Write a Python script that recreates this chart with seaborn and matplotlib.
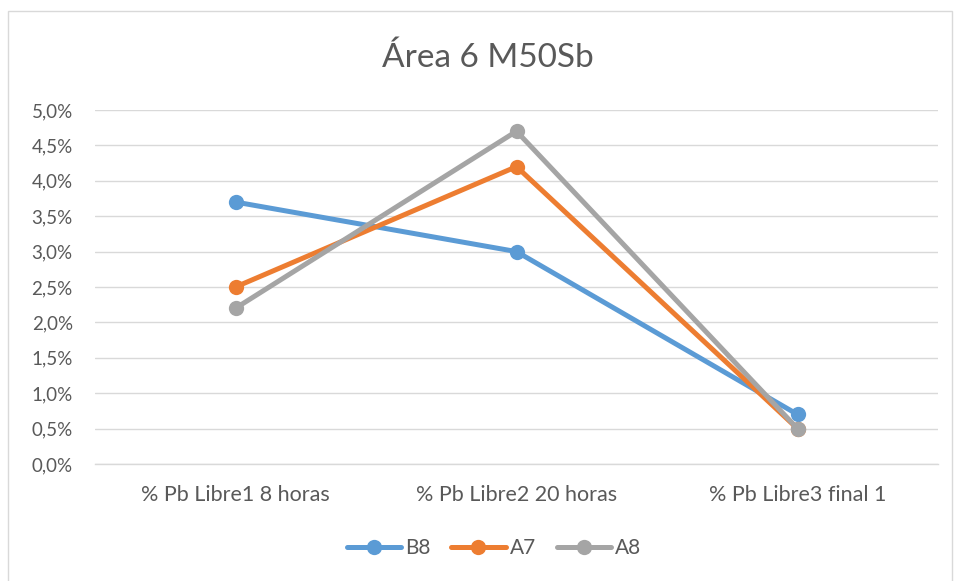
import matplotlib

matplotlib.use("Agg")
import matplotlib.pyplot as plt
import pandas as pd
import seaborn as sns
from matplotlib.patches import Rectangle
from matplotlib.ticker import FuncFormatter

CATEGORIES = ["% Pb Libre1 8 horas", "% Pb Libre2 20 horas", "% Pb Libre3 final 1"]
SERIES = ["B8", "A7", "A8"]
B8 = [3.7, 3.0, 0.7]
A7 = [2.5, 4.2, 0.5]
A8 = [2.2, 4.7, 0.5]
Y_TICKS = [0.0, 0.5, 1.0, 1.5, 2.0, 2.5, 3.0, 3.5, 4.0, 4.5, 5.0]
TITLE = "Área 6 M50Sb"

PALETTE = {"B8": "#5B9BD5", "A7": "#ED7D31", "A8": "#A5A5A5"}
TEXT = "#595959"


def main() -> None:
    sns.set_theme(style="white")
    plt.rcParams["font.family"] = ["Lato", "DejaVu Sans"]

    rows = []
    for name, vals in zip(SERIES, [B8, A7, A8]):
        for cat, v in zip(CATEGORIES, vals):
            rows.append({"cat": cat, "value": v, "series": name})
    df = pd.DataFrame(rows)

    fig = plt.figure(figsize=(9.55, 5.81), dpi=100)
    fig.patches.append(
        Rectangle((8 / 955, -0.01), 944 / 955, 1 - 11 / 581 + 0.01, transform=fig.transFigure,
                  fill=False, edgecolor="#D9D9D9", linewidth=1.0)
    )
    ax = fig.add_axes([95 / 955, 1 - 464 / 581, 843 / 955, 354 / 581])

    sns.lineplot(
        data=df, x="cat", y="value", hue="series", hue_order=SERIES, palette=PALETTE,
        marker="o", markersize=11, markeredgewidth=0, linewidth=3.6, sort=False, ax=ax,
    )

    ax.set_xlim(-0.5, 2.5)
    ax.set_ylim(0, 5.0)
    ax.set_yticks(Y_TICKS)
    ax.yaxis.set_major_formatter(FuncFormatter(lambda v, _: f"{v:.1f}%".replace(".", ",")))
    ax.grid(True, axis="y", color="#D9D9D9", linewidth=1.0)
    ax.grid(False, axis="x")
    ax.set_axisbelow(True)
    for side in ["top", "right", "left"]:
        ax.spines[side].set_visible(False)
    ax.spines["bottom"].set_color("#D9D9D9")
    ax.spines["bottom"].set_linewidth(1.0)
    ax.tick_params(axis="both", length=0, colors=TEXT)
    ax.tick_params(axis="y", pad=16, labelsize=13.5)
    ax.tick_params(axis="x", pad=15, labelsize=15.5)
    ax.set_xlabel("")
    ax.set_ylabel("")

    fig.text(488 / 955, 1 - 58 / 581, TITLE, ha="center", va="center", fontsize=24, color=TEXT)

    handles, labels = ax.get_legend_handles_labels()
    ax.legend(
        handles, labels, loc="center", bbox_to_anchor=(494 / 955, 1 - 548 / 581), bbox_transform=fig.transFigure,
        ncol=3, frameon=False, fontsize=15, handlelength=2.6, columnspacing=1.0, handletextpad=0.2,
        labelcolor=TEXT,
    )

    fig.savefig("out.png", dpi=100, facecolor="white")
    plt.close(fig)


if __name__ == "__main__":
    main()
